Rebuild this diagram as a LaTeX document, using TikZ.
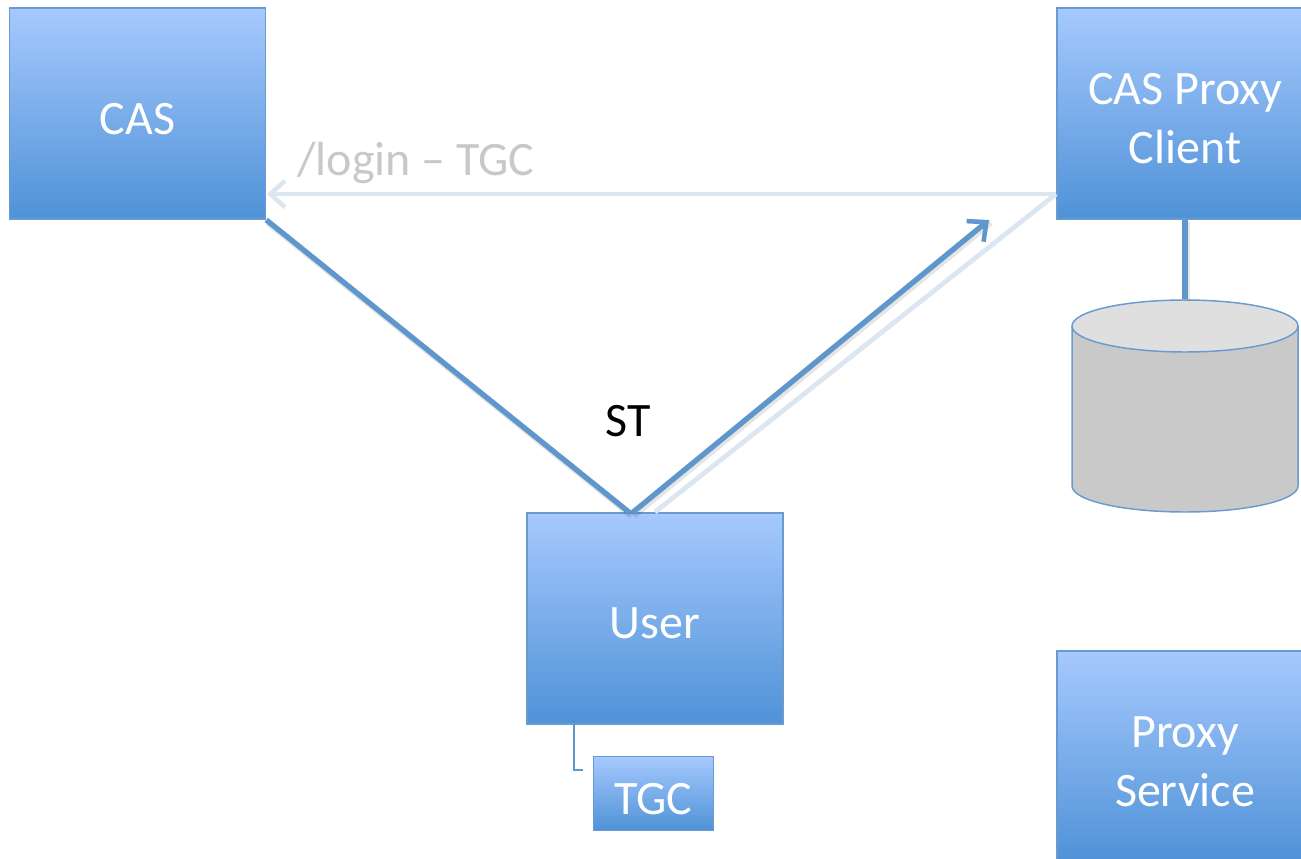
\documentclass[tikz,border=0pt]{standalone}
\usepackage{fontspec}
\setmainfont{Carlito}
\usetikzlibrary{arrows.meta}
\definecolor{boxline}{HTML}{6A9BD0}
\definecolor{boxtop}{HTML}{A6C9FE}
\definecolor{boxbottom}{HTML}{4F92D7}
\definecolor{linkblue}{HTML}{5F96CB}
\definecolor{linkfaint}{HTML}{DCE6F1}
\definecolor{textfaint}{HTML}{C8C8C8}
\newcommand{\boxstrut}{\rule{0pt}{31pt}}
\tikzset{
  bluebox/.style={draw=boxline,line width=1.1pt,top color=boxtop,bottom color=boxbottom,
    text=white,align=center,inner sep=0pt,font=\fontsize{36}{44}\selectfont},
  bigbox/.style={bluebox,minimum width=192pt,minimum height=158.5pt},
  smallbox/.style={bluebox,minimum width=90pt,minimum height=55.5pt},
  storeline/.style={draw=boxline,line width=1.1pt},
  linkshadow/.style={draw=black,opacity=.1,line width=5pt,transform canvas={shift={(1.2pt,-1.8pt)}}},
  thicklink/.style={draw=linkblue,line width=4pt},
  faintlink/.style={draw=linkfaint,line width=3.6pt},
  openhead/.style={-{Straight Barb[length=11pt,width=20pt,line width=3.4pt]}}
}
\begin{document}
\begin{tikzpicture}[x=0.75pt,y=-0.75pt]
  \useasboundingbox (0,0) rectangle (1301,859);
  \draw
    (137.5,113.5) node[bigbox] (cas){\boxstrut CAS}
    (1185,113.5) node[bigbox] (proxyclient){\boxstrut CAS Proxy\\Client}
    (655,618.5) node[bigbox] (user){\boxstrut User}
    (1185,756.5) node[bigbox] (proxyservice){\boxstrut Proxy\\Service}
    (653.5,793.5) node[smallbox] (tgc){\boxstrut TGC};
  % cylinder
  \draw[storeline,fill=black!21] (1072,326) -- (1072,486)
    arc[start angle=180,end angle=360,x radius=84.75pt,y radius=19.5pt] -- (1298,326);
  \draw[storeline,fill=black!12.5] (1185,326) ellipse[x radius=84.75pt,y radius=19.5pt];
  \draw
    (1185,300) node[inner sep=0pt] (store){}
    (416,163) node[text=textfaint,font=\fontsize{36}{36}\selectfont] (login){/login – TGC}
    (628,421) node[text=black,font=\fontsize{36}{36}\selectfont] (st){ST};
  \coordinate (userleft) at (630,513);
  \coordinate (userright) at (632,513);
  \coordinate (stend) at (989,220);
  \coordinate (proxyport) at (1056,194);
  \coordinate (casport) at (267,194);
  \coordinate (tgcstart) at (574,724);
  \coordinate (tgcend) at (583,770);
  \begin{scope}
    \draw[faintlink] (proxyport) to (user.north);
    \draw[faintlink,openhead] (proxyport) to (casport);
    \draw[linkshadow] (cas.south east) to (userleft);
    \draw[linkshadow] (userright) to (stend);
    \draw[linkshadow] (proxyclient.south) to (store);
    \draw[thicklink] (cas.south east) to (userleft);
    \draw[thicklink,openhead] (userright) to (stend);
    \draw[thicklink] (proxyclient.south) to (store);
    \draw[draw=linkblue,line width=1.3pt] (tgcstart) |- (tgcend);
  \end{scope}
\end{tikzpicture}
\end{document}
